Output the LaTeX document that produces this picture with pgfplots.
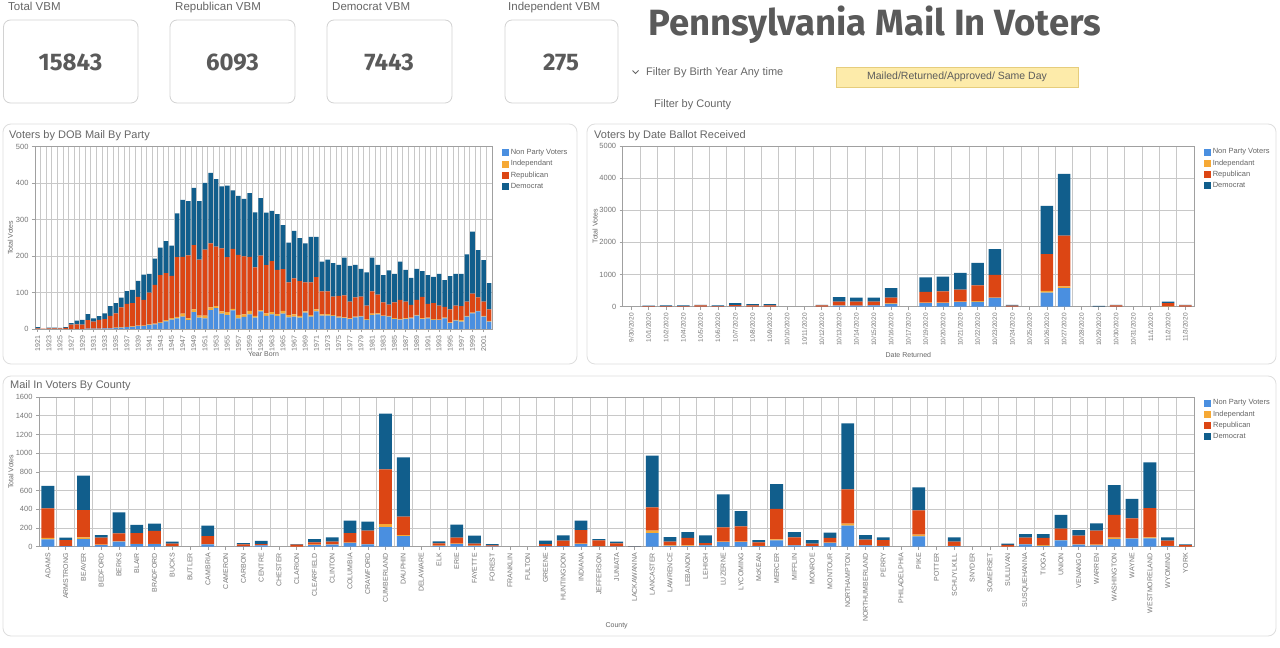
\documentclass[border=0pt]{standalone}
\usepackage{fontspec}
\setmainfont{Liberation Sans}
\newfontfamily\numfont{Fira Sans}
\usepackage{pgfplots}
\usepackage{pgfplotstable}
\pgfplotsset{compat=1.18}
\definecolor{np}{HTML}{4A8FE0}
\definecolor{ind}{HTML}{F6A935}
\definecolor{rep}{HTML}{DC4614}
\definecolor{dem}{HTML}{115E8C}
\definecolor{txt}{HTML}{666666}
\definecolor{tickc}{HTML}{777777}
\definecolor{gridc}{HTML}{C8C8C8}
\definecolor{axisc}{HTML}{A0A0A0}
\definecolor{ttl}{HTML}{5A5A5A}
\definecolor{boxc}{HTML}{D2D2D2}
\definecolor{panelc}{HTML}{DEDEDE}
\definecolor{yel}{HTML}{FDEBAA}
\definecolor{yelb}{HTML}{E6CD7C}

\pgfplotstableread{
yr np ind rep dem
1921 0 0 2 3
1922 0 0 1 0
1923 0 0 2 2
1924 0 0 2 2
1925 0 0 2 1
1926 0 0 3 2
1927 0 0 12 4
1928 0 0 13 10
1929 0 0 12 13
1930 1 0 23 17
1931 1 0 19 9
1932 1 0 24 10
1933 2 0 25 16
1934 2 0 34 27
1935 3 1 39 28
1936 4 1 54 27
1937 5 1 63 35
1938 6 1 64 36
1939 8 1 79 44
1940 8 1 71 69
1941 11 2 87 51
1942 13 2 106 72
1943 17 2 129 75
1944 21 3 129 88
1945 26 4 116 83
1946 29 4 164 120
1947 34 8 156 156
1948 24 5 173 149
1949 46 8 176 157
1950 31 6 153 161
1951 29 8 181 183
1952 52 7 176 193
1953 57 6 163 185
1954 42 6 173 170
1955 38 8 151 196
1956 51 4 165 160
1957 29 10 164 162
1958 33 7 159 158
1959 40 10 148 175
1960 31 5 133 151
1961 48 4 149 158
1962 36 7 132 144
1963 40 6 140 138
1964 36 5 121 153
1965 42 8 114 121
1966 32 6 90 109
1967 34 6 99 130
1968 31 5 95 118
1969 45 3 80 107
1970 34 4 90 125
1971 48 6 88 111
1972 37 3 63 82
1973 37 4 62 87
1974 36 2 51 92
1975 31 3 57 85
1976 30 2 60 104
1977 27 2 46 98
1978 32 2 53 89
1979 34 2 53 76
1980 25 2 37 91
1981 38 4 61 93
1982 40 3 51 82
1983 35 2 36 75
1984 34 2 31 94
1985 27 3 43 78
1986 26 2 52 105
1987 27 2 46 87
1988 29 2 35 74
1989 37 2 41 85
1990 27 2 59 71
1991 29 2 38 79
1992 25 2 44 72
1993 24 2 38 87
1994 29 2 30 73
1995 16 2 36 91
1996 23 2 39 87
1997 20 4 39 88
1998 34 2 39 130
1999 43 2 52 170
2000 48 2 37 129
2001 34 2 39 114
2002 20 2 32 72
}\dob

\pgfplotstableread{
x np ind rep dem
0 0 0 0 0
1 5 0 10 20
2 5 0 10 25
3 5 0 10 25
4 5 0 35 20
5 5 0 10 25
6 10 0 40 60
7 5 0 35 40
8 5 0 35 40
9 0 0 0 0
10 0 0 0 0
11 5 0 35 20
12 30 10 115 145
13 30 5 120 125
14 40 5 110 125
15 90 10 180 300
16 0 0 0 0
17 115 10 335 450
18 115 10 355 457
19 145 10 375 520
20 150 20 490 700
21 275 10 705 800
22 5 0 30 20
23 0 0 0 0
24 440 50 1145 1500
25 575 60 1575 1925
26 0 0 0 0
27 0 0 5 20
28 5 0 35 15
29 0 0 0 0
30 0 0 0 0
31 5 5 105 40
32 5 0 35 15
}\dates

\pgfplotstableread{
x np ind rep dem
0 78 15 317 239
1 5 0 66 25
2 82 18 292 367
3 18 3 75 29
4 53 5 85 224
5 28 3 115 86
6 28 3 137 78
7 3 2 27 21
8 0 0 0 0
9 25 3 86 111
10 0 0 0 0
11 3 0 22 14
12 15 0 12 34
13 0 0 0 0
14 0 0 22 6
15 18 3 25 36
16 22 3 28 47
17 40 3 103 132
18 25 3 143 96
19 210 32 585 595
20 114 11 196 634
21 0 0 0 0
22 8 3 25 21
23 28 4 64 139
24 10 2 20 86
25 3 0 11 14
26 0 0 0 0
27 0 0 0 0
28 5 1 22 36
29 5 2 57 57
30 28 4 146 100
31 3 2 63 14
32 3 1 32 17
33 0 0 2 2
34 146 25 250 552
35 8 5 40 50
36 5 8 80 64
37 15 3 21 82
38 50 5 152 353
39 50 5 162 164
40 5 3 38 25
41 68 10 325 267
42 15 3 82 57
43 5 2 25 39
44 40 3 50 57
45 225 21 367 706
46 15 3 57 50
47 5 3 63 29
48 0 0 0 0
49 110 18 260 246
50 0 0 0 0
51 5 3 45 47
52 0 0 0 0
53 0 0 0 0
54 0 0 20 12
55 25 3 68 39
56 8 8 77 42
57 68 3 121 147
58 22 3 93 60
59 15 8 148 78
60 82 14 243 320
61 86 3 214 207
62 89 11 313 489
63 5 3 56 36
64 0 0 18 7
}\county

\pgfplotsset{
  dash/.style={
    scale only axis, anchor=south west,
    ybar stacked, ymin=0, enlargelimits=false,
    tick align=outside, tick pos=left,
    axis line style={draw=axisc, line width=0.6pt},
    major tick style={draw=axisc, line width=0.6pt}, major tick length=3pt,
    minor tick length=0pt,
    ymajorgrids, xminorgrids,
    minor grid style={draw=gridc, line width=0.7pt},
    major grid style={draw=gridc, line width=0.7pt},
    yticklabel style={font=\fontsize{7.5}{8}\selectfont, text=tickc},
    xticklabel style={font=\fontsize{7}{8}\selectfont, text=tickc, rotate=90, anchor=east},
    ylabel={Total Votes},
    label style={font=\fontsize{7}{8}\selectfont, text=txt},
    /pgf/number format/assume math mode=true,
    /pgf/number format/1000 sep={},
    scaled y ticks=false,
    legend cell align=left,
    legend style={draw=none, fill=none, font=\fontsize{7.5}{9}\selectfont, text=txt,
      at={(1,1)}, anchor=north west, xshift=7pt, yshift=1pt, row sep=1.2pt,
      nodes={inner sep=1.6pt}},
    legend image code/.code={\draw[#1, draw=none] (0pt,-3.5pt) rectangle (7pt,3.5pt);},
  }
}

\begin{document}
\begin{tikzpicture}[x=1pt,y=1pt]
\path[use as bounding box, fill=white] (0,0) rectangle (1280,648);

% KPI labels
\foreach \xx/\tt in {8/Total VBM, 175/Republican VBM, 332/Democrat VBM, 508/Independent VBM}{
  \node[anchor=base west, inner sep=0, text=txt, font=\fontsize{11.5}{13}\selectfont] at (\xx,637.5) {\tt};
}
% KPI boxes
\draw[boxc, line width=0.8pt, rounded corners=7pt] (3.5,545) rectangle (138,628);
\draw[boxc, line width=0.8pt, rounded corners=7pt] (170,545) rectangle (295,628);
\draw[boxc, line width=0.8pt, rounded corners=7pt] (327,545) rectangle (452,628);
\draw[boxc, line width=0.8pt, rounded corners=7pt] (505,545) rectangle (618,628);
\foreach \xx/\vv in {70.5/15843, 232.5/6093, 389/7443, 561/275}{
  \node[anchor=base, inner sep=0, text=ttl, font=\numfont\bfseries\fontsize{24}{26}\selectfont] at (\xx,577) {\vv};
}
% Title
\node[anchor=base west, inner sep=0, text=ttl, font=\numfont\bfseries\fontsize{36.5}{40}\selectfont] at (648,612) {Pennsylvania Mail In Voters};
% Filters
\draw[txt, line width=0.8pt] (632.5,577.5) -- (635.5,574.5) -- (638.5,577.5);
\node[anchor=base west, inner sep=0, text=txt, font=\fontsize{11}{13}\selectfont] at (646,572) {Filter By Birth Year Any time};
\node[anchor=base west, inner sep=0, text=txt, font=\fontsize{11}{13}\selectfont] at (654,540) {Filter by County};
\draw[yelb, fill=yel, line width=0.6pt] (836,581) rectangle (1078,561);
\node[inner sep=0, text=txt!90!black, font=\fontsize{10.5}{12}\selectfont] at (957,571) {Mailed/Returned/Approved/ Same Day};

% Panels
\draw[panelc, line width=0.8pt, rounded corners=8pt] (3,524) rectangle (577,284);
\draw[panelc, line width=0.8pt, rounded corners=8pt] (587,524) rectangle (1276,284);
\draw[panelc, line width=0.8pt, rounded corners=8pt] (3,272) rectangle (1276,12);
\node[anchor=base west, inner sep=0, text=txt, font=\fontsize{11}{13}\selectfont] at (9,509) {Voters by DOB Mail By Party};
\node[anchor=base west, inner sep=0, text=txt, font=\fontsize{11}{13}\selectfont] at (594,509) {Voters by Date Ballot Received};
\node[anchor=base west, inner sep=0, text=txt, font=\fontsize{11}{13}\selectfont] at (10,259) {Mail In Voters By County};

% DOB chart
\begin{axis}[dash, at={(35pt,319pt)}, width=457pt, height=182.3pt,
  xmin=1920.5, xmax=2002.5, ymax=500, ytick={0,100,...,500},
  xtick={1921,1923,...,2001}, minor xtick={1920.5,1921.5,...,2002.5},
  bar width=0.82,
  xlabel={Year Born},
  xlabel style={at={(axis description cs:0.5,-0.1536)}, anchor=base},
  ylabel style={at={(axis description cs:-0.0405,0.5)}, anchor=south},
]
\addplot[fill=np, draw=none] table[x=yr, y=np] {\dob};
\addplot[fill=ind, draw=none] table[x=yr, y=ind] {\dob};
\addplot[fill=rep, draw=none] table[x=yr, y=rep] {\dob};
\addplot[fill=dem, draw=none] table[x=yr, y=dem] {\dob};
\legend{Non Party Voters, Independant, Republican, Democrat}
\end{axis}

% Date chart
\begin{axis}[dash, at={(622.7pt,341.3pt)}, width=571.3pt, height=160.7pt,
  xmin=-0.5, xmax=32.5, ymax=5000, ytick={0,1000,...,5000},
  xtick={0,...,32}, minor xtick={-0.5,0.5,...,32.5},
  xticklabels={9/30/2020,10/1/2020,10/2/2020,10/4/2020,10/5/2020,10/6/2020,10/7/2020,10/8/2020,10/9/2020,10/10/2020,10/11/2020,10/12/2020,10/13/2020,10/14/2020,10/15/2020,10/16/2020,10/17/2020,10/19/2020,10/20/2020,10/21/2020,10/22/2020,10/23/2020,10/24/2020,10/25/2020,10/26/2020,10/27/2020,10/28/2020,10/29/2020,10/30/2020,10/31/2020,11/1/2020,11/2/2020,11/3/2020},
  xticklabel style={font=\fontsize{6.5}{7}\selectfont},
  bar width=0.72,
  xlabel={Date Returned},
  xlabel style={at={(axis description cs:0.5,-0.3174)}, anchor=base},
  ylabel style={at={(axis description cs:-0.0376,0.5)}, anchor=south},
]
\addplot[fill=np, draw=none] table[x=x, y=np] {\dates};
\addplot[fill=ind, draw=none] table[x=x, y=ind] {\dates};
\addplot[fill=rep, draw=none] table[x=x, y=rep] {\dates};
\addplot[fill=dem, draw=none] table[x=x, y=dem] {\dates};
\legend{Non Party Voters, Independant, Republican, Democrat}
\end{axis}

% County chart
\begin{axis}[dash, at={(39pt,101.3pt)}, width=1155.3pt, height=149.7pt,
  xmin=-0.5, xmax=64.5, ymax=1600, ytick={0,200,...,1600},
  xtick={0,...,64}, minor xtick={-0.5,0.5,...,64.5},
  xticklabels={ADAMS,ARMSTRONG,BEAVER,BEDFORD,BERKS,BLAIR,BRADFORD,BUCKS,BUTLER,CAMBRIA,CAMERON,CARBON,CENTRE,CHESTER,CLARION,CLEARFIELD,CLINTON,COLUMBIA,CRAWFORD,CUMBERLAND,DAUPHIN,DELAWARE,ELK,ERIE,FAYETTE,FOREST,FRANKLIN,FULTON,GREENE,HUNTINGDON,INDIANA,JEFFERSON,JUNIATA,LACKAWANNA,LANCASTER,LAWRENCE,LEBANON,LEHIGH,LUZERNE,LYCOMING,McKEAN,MERCER,MIFFLIN,MONROE,MONTOUR,NORTHAMPTON,NORTHUMBERLAND,PERRY,PHILADELPHIA,PIKE,POTTER,SCHUYLKILL,SNYDER,SOMERSET,SULLIVAN,SUSQUEHANNA,TIOGA,UNION,VENANGO,WARREN,WASHINGTON,WAYNE,WESTMORELAND,WYOMING,YORK},
  bar width=0.72,
  xlabel={County},
  xlabel style={at={(axis description cs:0.5,-0.5377)}, anchor=base},
  ylabel style={at={(axis description cs:-0.019,0.5)}, anchor=south},
]
\addplot[fill=np, draw=none] table[x=x, y=np] {\county};
\addplot[fill=ind, draw=none] table[x=x, y=ind] {\county};
\addplot[fill=rep, draw=none] table[x=x, y=rep] {\county};
\addplot[fill=dem, draw=none] table[x=x, y=dem] {\county};
\legend{Non Party Voters, Independant, Republican, Democrat}
\end{axis}
\end{tikzpicture}
\end{document}
